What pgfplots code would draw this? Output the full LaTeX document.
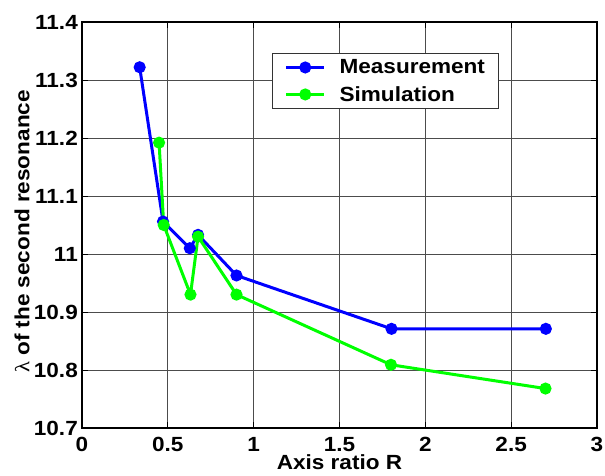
\documentclass[border=0pt]{standalone}
\usepackage{fontspec}
\setmainfont{Liberation Sans}[FakeStretch=1.1]
\newfontfamily\greekfont{Liberation Serif}[FakeStretch=1.1]
\usepackage{pgfplots}
\pgfplotsset{compat=1.18}
\begin{document}
\begin{tikzpicture}
% picture frame as in the reference: axis box 515 x 406, placed at (82,22) of 605 x 474
\useasboundingbox (-82pt,-47pt) rectangle (523pt,428pt);
\begin{axis}[
  scale only axis,
  anchor=south west, at={(0pt,0pt)},
  width=515pt, height=406pt,
  xmin=0, xmax=3, ymin=10.7, ymax=11.4,
  xtick={0,0.5,...,3},
  ytick={10.7,10.8,...,11.4},
  yticklabel style={/pgf/number format/fixed,/pgf/number format/precision=1},
  /pgf/number format/assume math mode=true,
  ticklabel style={font=\fontsize{20.5}{20.5}\selectfont\bfseries},
  label style={font=\fontsize{20.5}{20.5}\selectfont\bfseries},
  xticklabel style={inner ysep=0pt, yshift=-9pt},
  yticklabel style={inner xsep=0pt, xshift=-4pt},
  xlabel={Axis ratio R},
  ylabel={{\greekfont\mdseries λ} of the second resonance},
  xlabel style={at={(axis description cs:0.5,-0.1034)}, anchor=base, inner sep=0pt},
  ylabel style={at={(axis description cs:-0.102,0.484)}, anchor=base, inner sep=0pt},
  grid=major,
  major grid style={black!70, line width=0.8pt},
  axis line style={line width=1.3pt},
  tick align=inside,
  major tick length=6pt,
  tick style={black, line width=0.8pt},
  legend style={at={(0.368,0.923)}, anchor=north west,
    font=\fontsize{20.5}{20.5}\selectfont\bfseries, draw=black!80, line width=0.8pt,
    inner xsep=13pt, inner ysep=6pt, row sep=11pt, column sep=0pt,
    nodes={inner sep=0pt}},
  legend image code/.code={
    \draw[mark repeat=2,mark phase=2] plot coordinates {(0pt,0pt) (18.85pt,0pt) (37.7pt,0pt)};},
  legend cell align=left,
  /tikz/every odd column/.append style={column sep=14pt},
]
\addplot[blue, line width=3pt, mark=*, mark size=4.5pt] coordinates {
  (0.336,11.322) (0.472,11.056) (0.628,11.010) (0.676,11.033)
  (0.900,10.963) (1.803,10.871) (2.702,10.871)};
\addlegendentry{Measurement}
\addplot[green, line width=3pt, mark=*, mark size=4.5pt] coordinates {
  (0.449,11.192) (0.476,11.050) (0.632,10.930) (0.676,11.030)
  (0.900,10.930) (1.800,10.809) (2.700,10.768)};
\addlegendentry{Simulation}
\end{axis}
\end{tikzpicture}
\end{document}
